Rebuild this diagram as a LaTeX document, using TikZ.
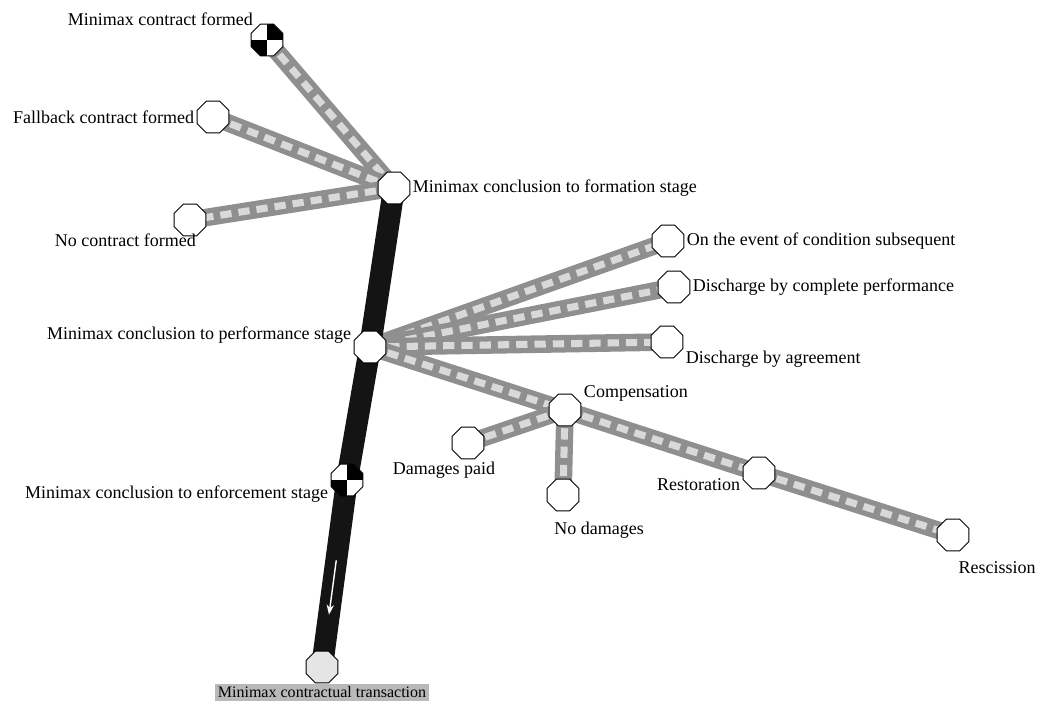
\documentclass[tikz,border=0pt]{standalone}
\usepackage{fontspec}
\setmainfont{Liberation Serif}
\usetikzlibrary{shapes.geometric,backgrounds,calc,arrows.meta}

\begin{document}
\begin{tikzpicture}[
		x=0.025cm, y=-0.025cm,
		every node/.style={regular polygon, regular polygon sides=8, draw, fill=white, minimum size=8.6mm, inner sep=0pt, line width=0.7pt},
		every label/.append style={rectangle, draw=none, fill=none, minimum size=0pt, inner sep=1.5pt, font=\fontsize{12.8}{14}\selectfont},
		quarters/.style={path picture={
			\fill[black] (path picture bounding box.center) rectangle (path picture bounding box.north east);
			\fill[black] (path picture bounding box.center) rectangle (path picture bounding box.south west);}},
		link/.style={line width=12.5pt, draw=gray!88, postaction={draw=gray!30, line width=5pt, dash pattern=on 8pt off 5pt}},
		stem/.style={line width=15.5pt, draw=black!92}
	]
  \useasboundingbox (0,0) rectangle (1041,711);
  % formation stage
  \node (mcf) [quarters, label=above left:{Minimax contract formed}] at (267, 40) {};
  \node (fcf) [label=left:{Fallback contract formed}] at (213, 117) {};
  \node (ncf) [label={[xshift=0.5cm]below left:{No contract formed}}] at (190, 220) {};
  \node (formation) [label=right:{Minimax conclusion to formation stage}] at (394, 188) {};
  % performance stage
  \node (performance) [label=177:{Minimax conclusion to performance stage}] at (370, 347) {};
  \node (oecs) [label=right:{On the event of condition subsequent}] at (668, 241) {};
  \node (dcp) [label=right:{Discharge by complete performance}] at (674, 287) {};
  \node (dba) [label=-20:{Discharge by agreement}] at (667, 342) {};
  \node (comp) [label=20:{Compensation}] at (565, 410) {};
  \node (dp) [label={[xshift=-0.6cm]below:{Damages paid}}] at (468, 443) {};
  \node (nd) [label={[xshift=0.9cm, yshift=-0.2cm]below:{No damages}}] at (563, 495) {};
  \node (rest) [label={[yshift=-0.3cm]left:{Restoration}}] at (759, 473) {};
  \node (resc) [label={[xshift=1.1cm, yshift=-0.2cm]below:{Rescission}}] at (953, 535) {};
  % enforcement stage
  \node (enforcement) [quarters, label=190:{Minimax conclusion to enforcement stage}] at (347, 480) {};
  \node (transaction) [fill=gray!20, label={[fill=gray!55, inner sep=2pt, font=\fontsize{11.4}{13}\selectfont]below:{Minimax contractual transaction}}] at (322, 667) {};
  \coordinate (flowA) at ($(enforcement)!0.43!(transaction)$);
  \coordinate (flowB) at ($(enforcement)!0.72!(transaction)$);
  \begin{scope}[on background layer]
    \draw[link] (formation.center) -- (mcf.center);
    \draw[link] (formation.center) -- (fcf.center);
    \draw[link] (formation.center) -- (ncf.center);
    \draw[link] (performance.center) -- (oecs.center);
    \draw[link] (performance.center) -- (dcp.center);
    \draw[link] (performance.center) -- (dba.center);
    \draw[link] (performance.center) -- (comp.center);
    \draw[link] (comp.center) -- (dp.center);
    \draw[link] (comp.center) -- (nd.center);
    \draw[link] (comp.center) -- (rest.center);
    \draw[link] (rest.center) -- (resc.center);
    \draw[stem] (formation.center) -- (performance.center);
    \draw[stem] (performance.center) -- (enforcement.center);
    \draw[stem] (enforcement.center) -- (transaction.center);
  \end{scope}
  \draw[white, line width=1pt, -{Stealth[length=7pt]}] (flowA) -- (flowB);
\end{tikzpicture}
\end{document}
